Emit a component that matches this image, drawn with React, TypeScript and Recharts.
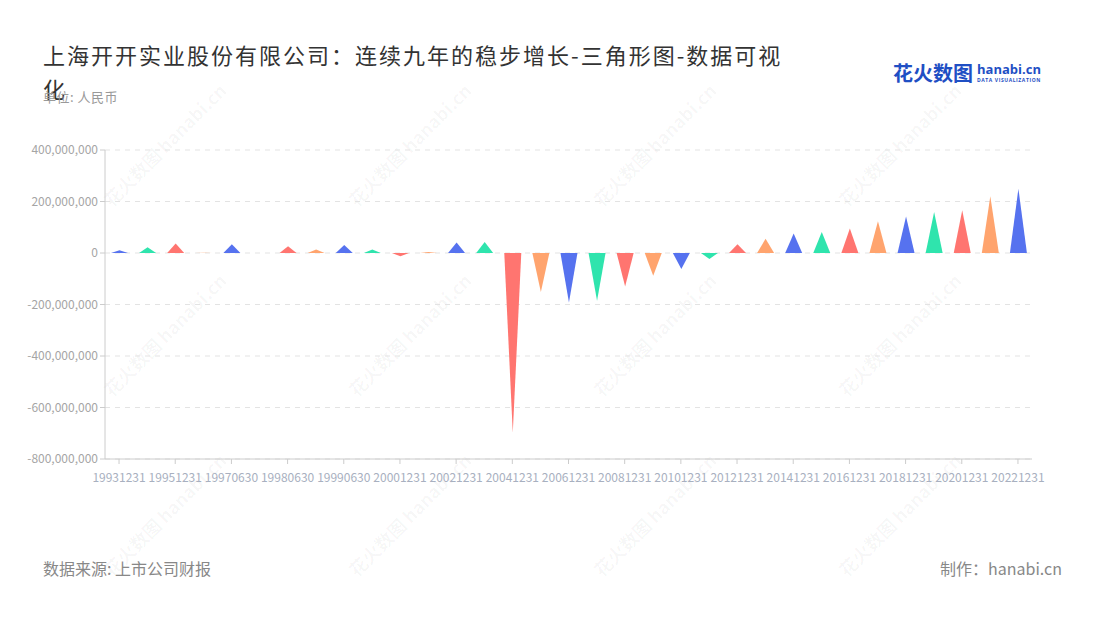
import React from 'react';
import { BarChart, Bar, XAxis, YAxis, CartesianGrid, Cell } from 'recharts';

const categories = [
  '19931231', '19941231', '19951231', '19961231', '19970630', '19971231', '19980630', '19981231',
  '19990630', '19991231', '20001231', '20011231', '20021231', '20031231', '20041231', '20051231',
  '20061231', '20071231', '20081231', '20091231', '20101231', '20111231', '20121231', '20131231',
  '20141231', '20151231', '20161231', '20171231', '20181231', '20191231', '20201231', '20211231',
  '20221231',
];

const netProfit = [
  11000000, 22000000, 37000000, 1000000, 34000000, 0, 26000000, 14000000,
  31000000, 14000000, -13000000, 4000000, 41000000, 43000000, -698000000, -151000000,
  -192000000, -185000000, -130000000, -88000000, -62000000, -23000000, 34000000, 55000000,
  76000000, 82000000, 95000000, 123000000, 142000000, 159000000, 166000000, 220000000,
  250000000,
];

const yTicks = [-800000000, -600000000, -400000000, -200000000, 0, 200000000, 400000000];
const palette = ['#5672ef', '#2fe4ad', '#ff7570', '#ffa46e'];

const data = categories.map((c, i) => ({ date: c, value: netProfit[i] }));

const FONT = '"Noto Sans CJK SC", "Noto Sans", sans-serif';

const Triangle = (props: any) => {
  const { x, y, width, height, fill } = props;
  if (height === undefined || width === undefined) return null;
  const baseY = y + height;
  const d = `M${x},${baseY} L${x + width},${baseY} L${x + width / 2},${y} Z`;
  return <path d={d} fill={fill} />;
};

const fmt = (v: number) => v.toLocaleString('en-US');

const wmPositions = [
  [170, 150], [415, 150], [660, 150], [905, 150],
  [170, 340], [415, 340], [660, 340], [905, 340],
  [170, 520], [415, 520], [660, 520], [905, 520],
];

export default function App() {
  return (
    <div style={{ position: 'absolute', left: 0, top: 0, width: 1100, height: 620, background: '#fff', fontFamily: FONT, overflow: 'hidden' }}>
      <svg width={1100} height={620} style={{ position: 'absolute', left: 0, top: 0, pointerEvents: 'none' }}>
        {wmPositions.map(([x, y], i) => (
          <text key={i} x={x} y={y} transform={`rotate(-45 ${x} ${y})`} textAnchor="middle" fontSize={18} fontWeight={700} fill="#000" fillOpacity={0.035} fontFamily={FONT}>
            花火数图 hanabi.cn
          </text>
        ))}
      </svg>

      <div style={{ position: 'absolute', left: 43, top: 37, width: 748, fontSize: 22, lineHeight: '34px', letterSpacing: 2, color: '#333' }}>
        上海开开实业股份有限公司：连续九年的稳步增长-三角形图-数据可视化
      </div>
      <div style={{ position: 'absolute', left: 43, top: 87, fontSize: 13, letterSpacing: 0.5, color: '#999' }}>单位: 人民币</div>

      <div style={{ position: 'absolute', left: 893, top: 60, display: 'flex', alignItems: 'center' }}>
        <span style={{ fontSize: 20, fontWeight: 700, color: '#1f4fc4', lineHeight: '26px' }}>花火数图</span>
        <span style={{ display: 'inline-block', marginLeft: 4 }}>
          <div style={{ fontSize: 13, lineHeight: '15px', fontWeight: 700, color: '#1f4fc4', fontFamily: '"Open Sans", sans-serif' }}>hanabi.cn</div>
          <div style={{ fontSize: 5, lineHeight: '7px', fontWeight: 700, color: '#1f4fc4', letterSpacing: 0.6, fontFamily: '"Open Sans", sans-serif' }}>DATA VISUALIZATION</div>
        </span>
      </div>

      <BarChart
        width={1100}
        height={620}
        data={data}
        margin={{ top: 150, right: 68, bottom: 131, left: 45 }}
        style={{ position: 'absolute', left: 0, top: 0 }}
      >
        <CartesianGrid vertical={false} stroke="#e3e3e3" strokeDasharray="5 5" />
        <XAxis
          dataKey="date"
          interval={1}
          height={30}
          tick={{ fontSize: 12, fill: '#a8b0c0', fontFamily: FONT }}
          tickLine={{ stroke: '#ccc' }}
          axisLine={{ stroke: '#ccc' }}
          tickSize={5}
          tickMargin={9}
        />
        <YAxis
          width={60}
          domain={[-800000000, 400000000]}
          ticks={yTicks}
          tickFormatter={fmt}
          tick={{ fontSize: 12, fill: '#a5a5a5', fontFamily: FONT }}
          tickLine={{ stroke: '#ccc' }}
          axisLine={{ stroke: '#ccc' }}
          tickSize={5}
        />
        <Bar dataKey="value" barSize={17} isAnimationActive={false} shape={<Triangle />}>
          {data.map((_, i) => (
            <Cell key={i} fill={palette[i % 4]} />
          ))}
        </Bar>
      </BarChart>

      <div style={{ position: 'absolute', left: 43, top: 556, fontSize: 16, color: '#888' }}>数据来源: 上市公司财报</div>
      <div style={{ position: 'absolute', right: 38, top: 556, fontSize: 16, color: '#888' }}>制作：hanabi.cn</div>
    </div>
  );
}
